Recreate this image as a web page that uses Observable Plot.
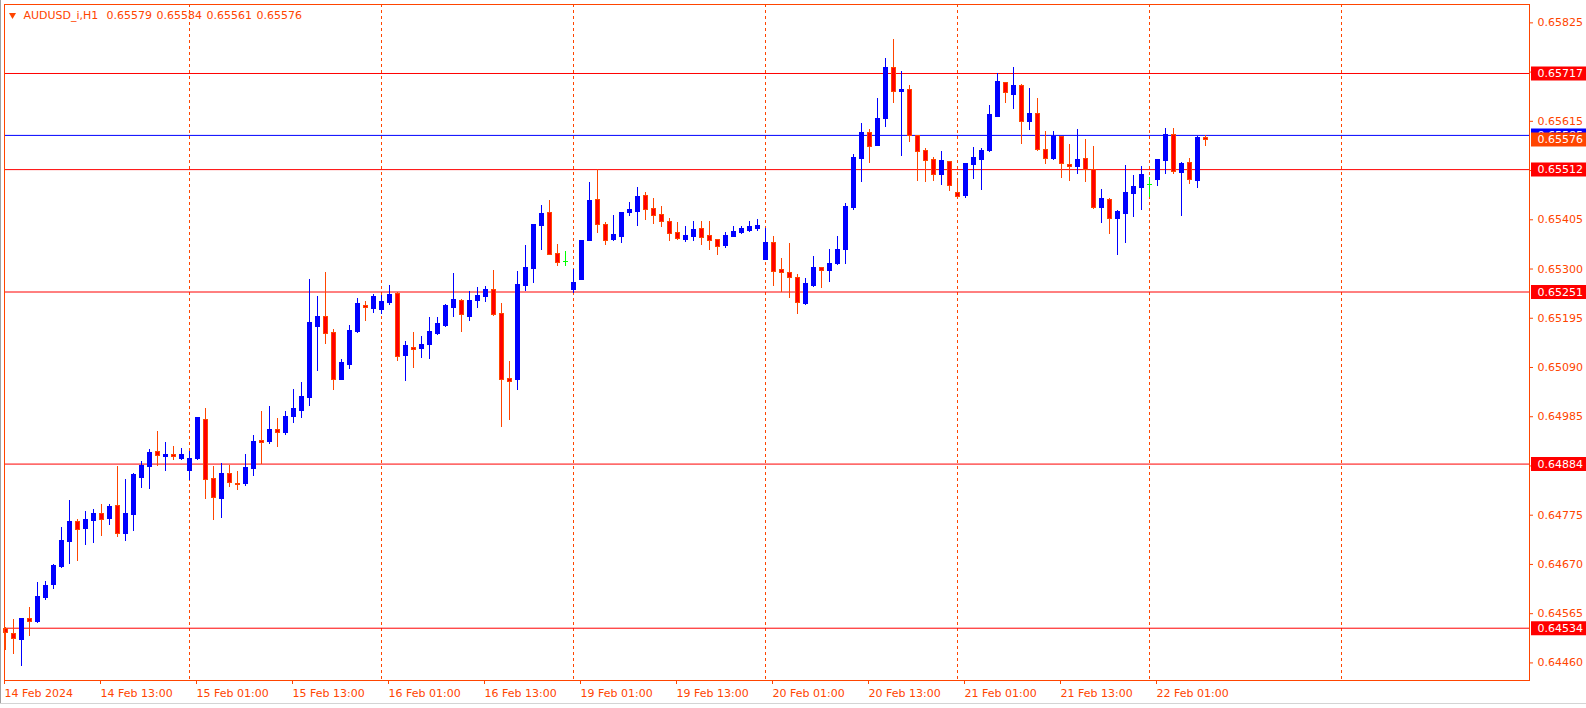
<!DOCTYPE html>
<html><head><meta charset="utf-8">
<script src="https://cdn.jsdelivr.net/npm/d3@7"></script>
<script src="https://cdn.jsdelivr.net/npm/@observablehq/plot@0.6"></script>
<style>
html,body{margin:0;padding:0;background:#fff;overflow:hidden}
#wrap{position:relative;width:1586px;height:708px}
#edgeL{position:absolute;left:0;top:0;width:1px;height:704px;background:#a0a0a0}
#edgeB{position:absolute;left:0;top:703px;width:1586px;height:1px;background:#d4d4d4}
</style></head><body><div id="wrap"><div id="edgeL"></div><div id="edgeB"></div></div>
<script>
// ---- data (AUDUSD_i, H1, bar index 0 = 14 Feb 2024 01:00) ----
const opens = [0.64532,0.64522,0.64509,0.64553,0.64547,0.64598,0.64626,0.64664,0.64717,0.64760,
0.64746,0.64763,0.64777,0.64767,0.64794,0.64735,0.64775,0.64854,0.64877,0.64909,
0.64899,0.64903,0.64894,0.64869,0.64894,0.64979,0.64853,0.64810,0.64862,0.64842,
0.64841,0.64873,0.64933,0.64931,0.64956,0.64950,0.64984,0.64997,0.65024,0.65176,
0.65197,0.65163,0.65063,0.65096,0.65165,0.65222,0.65215,0.65213,0.65228,0.65246,
0.65115,0.65132,0.65130,0.65138,0.65162,0.65179,0.65217,0.65231,0.65198,0.65232,
0.65241,0.65255,0.65204,0.65065,0.65063,0.65263,0.65300,0.65392,0.65419,0.65332,
0.65317,0.65255,0.65277,0.65360,0.65447,0.65393,0.65361,0.65368,0.65419,0.65421,
0.65455,0.65428,0.65415,0.65400,0.65376,0.65361,0.65368,0.65385,0.65370,0.65361,
0.65349,0.65368,0.65376,0.65381,0.65385,0.65319,0.65355,0.65297,0.65291,0.65280,
0.65225,0.65263,0.65302,0.65295,0.65310,0.65340,0.65430,0.65534,0.65590,0.65562,
0.65620,0.65728,0.65678,0.65681,0.65584,0.65551,0.65532,0.65501,0.65528,0.65462,
0.65456,0.65521,0.65533,0.65551,0.65625,0.65696,0.65671,0.65690,0.65614,0.65630,
0.65553,0.65535,0.65581,0.65521,0.65518,0.65534,0.65512,0.65430,0.65447,0.65407,
0.65418,0.65460,0.65473,0.65480,0.65490,0.65531,0.65585,0.65505,0.65526,0.65488,
0.65579];
const highs = [0.64535,0.64553,0.64553,0.64579,0.64632,0.64634,0.64670,0.64749,0.64807,0.64766,
0.64783,0.64788,0.64798,0.64798,0.64879,0.64852,0.64864,0.64890,0.64916,0.64954,
0.64931,0.64922,0.64918,0.64911,0.64982,0.65003,0.64879,0.64886,0.64882,0.64869,
0.64905,0.64945,0.64997,0.65007,0.64982,0.64997,0.65044,0.65059,0.65278,0.65242,
0.65293,0.65172,0.65108,0.65180,0.65238,0.65231,0.65246,0.65244,0.65265,0.65250,
0.65146,0.65165,0.65157,0.65197,0.65197,0.65225,0.65291,0.65235,0.65253,0.65261,
0.65263,0.65297,0.65227,0.65103,0.65295,0.65351,0.65396,0.65436,0.65447,0.65353,
0.65338,0.65300,0.65359,0.65485,0.65513,0.65400,0.65415,0.65419,0.65442,0.65474,
0.65464,0.65451,0.65434,0.65408,0.65400,0.65391,0.65402,0.65402,0.65402,0.65364,
0.65378,0.65391,0.65391,0.65402,0.65406,0.65387,0.65370,0.65323,0.65355,0.65289,
0.65280,0.65327,0.65304,0.65342,0.65370,0.65440,0.65545,0.65611,0.65598,0.65664,
0.65748,0.65790,0.65722,0.65692,0.65584,0.65556,0.65538,0.65551,0.65528,0.65494,
0.65524,0.65560,0.65558,0.65649,0.65718,0.65698,0.65730,0.65694,0.65686,0.65664,
0.65594,0.65594,0.65583,0.65566,0.65598,0.65577,0.65562,0.65470,0.65451,0.65425,
0.65521,0.65500,0.65519,0.65496,0.65532,0.65600,0.65600,0.65528,0.65536,0.65583,
0.65584];
const lows = [0.64487,0.64478,0.64453,0.64517,0.64543,0.64594,0.64617,0.64662,0.64670,0.64677,
0.64711,0.64715,0.64730,0.64753,0.64728,0.64719,0.64741,0.64832,0.64830,0.64879,
0.64869,0.64891,0.64891,0.64848,0.64892,0.64808,0.64764,0.64767,0.64835,0.64827,
0.64837,0.64858,0.64884,0.64926,0.64920,0.64946,0.64971,0.64982,0.65006,0.65082,
0.65138,0.65042,0.65063,0.65085,0.65162,0.65189,0.65206,0.65204,0.65223,0.65102,
0.65061,0.65087,0.65110,0.65106,0.65159,0.65176,0.65196,0.65165,0.65189,0.65215,
0.65228,0.65198,0.64961,0.64976,0.65042,0.65253,0.65270,0.65339,0.65328,0.65305,
0.65306,0.65248,0.65277,0.65360,0.65375,0.65351,0.65359,0.65355,0.65413,0.65391,
0.65404,0.65396,0.65389,0.65359,0.65361,0.65357,0.65359,0.65351,0.65340,0.65329,
0.65344,0.65368,0.65374,0.65378,0.65381,0.65319,0.65263,0.65251,0.65238,0.65204,
0.65223,0.65261,0.65259,0.65272,0.65308,0.65310,0.65425,0.65485,0.65524,0.65562,
0.65602,0.65654,0.65541,0.65569,0.65487,0.65485,0.65487,0.65479,0.65465,0.65450,
0.65450,0.65492,0.65468,0.65549,0.65625,0.65652,0.65641,0.65566,0.65596,0.65550,
0.65522,0.65531,0.65494,0.65487,0.65502,0.65485,0.65428,0.65398,0.65374,0.65328,
0.65354,0.65409,0.65424,0.65452,0.65477,0.65501,0.65501,0.65413,0.65481,0.65472,
0.65561];
const closes = [0.64524,0.64510,0.64553,0.64547,0.64600,0.64625,0.64667,0.64719,0.64760,0.64743,
0.64764,0.64777,0.64765,0.64792,0.64735,0.64777,0.64860,0.64879,0.64907,0.64901,
0.64903,0.64899,0.64903,0.64894,0.64982,0.64851,0.64812,0.64862,0.64844,0.64840,
0.64875,0.64931,0.64930,0.64956,0.64950,0.64984,0.65001,0.65027,0.65184,0.65197,
0.65162,0.65063,0.65099,0.65167,0.65225,0.65216,0.65240,0.65229,0.65244,0.65113,
0.65135,0.65128,0.65137,0.65165,0.65182,0.65221,0.65233,0.65201,0.65231,0.65242,
0.65255,0.65202,0.65063,0.65060,0.65265,0.65302,0.65393,0.65417,0.65330,0.65313,
0.65317,0.65270,0.65359,0.65445,0.65393,0.65360,0.65372,0.65419,0.65425,0.65453,
0.65425,0.65413,0.65400,0.65374,0.65364,0.65370,0.65383,0.65366,0.65359,0.65346,
0.65370,0.65378,0.65385,0.65389,0.65391,0.65355,0.65294,0.65292,0.65280,0.65227,
0.65268,0.65302,0.65296,0.65310,0.65340,0.65432,0.65536,0.65590,0.65561,0.65620,
0.65728,0.65678,0.65681,0.65584,0.65550,0.65531,0.65501,0.65530,0.65477,0.65454,
0.65524,0.65536,0.65551,0.65628,0.65698,0.65675,0.65690,0.65614,0.65630,0.65554,
0.65535,0.65581,0.65523,0.65518,0.65532,0.65512,0.65430,0.65449,0.65407,0.65421,
0.65462,0.65474,0.65500,0.65480,0.65532,0.65585,0.65507,0.65524,0.65490,0.65579,
0.65576];

const xTickBars = [0,12,24,36,48,60,72,84,96,108,120,132,144];
const xTickLabels = ["14 Feb 2024","14 Feb 13:00","15 Feb 01:00","15 Feb 13:00","16 Feb 01:00","16 Feb 13:00",
  "19 Feb 01:00","19 Feb 13:00","20 Feb 01:00","20 Feb 13:00","21 Feb 01:00","21 Feb 13:00","22 Feb 01:00"];
const gridBars = [23,47,71,95,119,143,167];
const yTicks = [0.64460,0.64565,0.64670,0.64775,0.64880,0.64985,0.65090,0.65195,0.65300,0.65405,0.65510,0.65615,0.65720,0.65825];
const redLevels = [0.65717,0.65512,0.65251,0.64884,0.64534];
const blueLevels = [0.65585];
const bidLevels = [0.65576];
const headerTexts = ["AUDUSD_i,H1","0.65579","0.65584","0.65561","0.65576"];

// ---- styling ----
const FG = "#FF4500", BULL = "#0000FF", BEAR_FILL = "#FF0000", BEAR_LINE = "#FF4500", DOJI = "#00FF00";
const FONT = "DejaVu Sans";

const candles = opens.map((o, i) => ({i, open: o, high: highs[i], low: lows[i], close: closes[i]}));
const bull = candles.filter(d => d.close > d.open);
const bear = candles.filter(d => d.close < d.open);
const doji = candles.filter(d => d.close === d.open);
const wickColor = d => d.close > d.open ? BULL : d.close < d.open ? BEAR_LINE : DOJI;
const fmt = d => d.toFixed(5);
const headerDx = [19, 102, 152, 202, 252];

const chart = Plot.plot({
  width: 1586, height: 708,
  marginLeft: 4, marginRight: 57, marginTop: 4, marginBottom: 28,
  x: {type: "linear", domain: [-0.125, 190.5], axis: null},
  y: {type: "linear", domain: [0.6442248, 0.6586415], axis: null},
  style: {fontFamily: FONT, fontSize: "11px", background: "transparent", overflow: "visible"},
  marks: [
    Plot.ruleX(gridBars, {x: d => d, stroke: FG, strokeDasharray: "3,3", strokeWidth: 1}),
    Plot.ruleY(redLevels, {y: d => d, stroke: "#FF0000", strokeWidth: 1}),
    Plot.ruleY(blueLevels, {y: d => d, stroke: "#0000FF", strokeWidth: 1}),
    Plot.ruleX(candles, {x: "i", y1: "low", y2: "high", stroke: wickColor, strokeWidth: 1, shapeRendering: "crispEdges"}),
    Plot.rect(bull, {x1: d => d.i - 2/8, x2: d => d.i + 3/8, y1: "open", y2: "close",
      insetTop: -0.5, insetBottom: -0.5, fill: BULL, shapeRendering: "crispEdges"}),
    Plot.rect(bear, {x1: d => d.i - 1.5/8, x2: d => d.i + 2.5/8, y1: "open", y2: "close",
      fill: BEAR_FILL, stroke: BEAR_LINE, strokeWidth: 1, shapeRendering: "crispEdges"}),
    Plot.ruleY(doji, {y: "open", x1: d => d.i - 2/8, x2: d => d.i + 3/8, stroke: DOJI, strokeWidth: 1, shapeRendering: "crispEdges"}),
    Plot.frame({stroke: FG, strokeWidth: 1}),
    Plot.axisX(xTickBars, {anchor: "bottom", tickSize: 4, tickPadding: 5, color: FG, textAnchor: "start", dx: -1,
      tickFormat: d => xTickLabels[xTickBars.indexOf(d)], label: null}),
    Plot.axisY(yTicks, {anchor: "right", tickSize: 3, tickPadding: 5, color: FG, tickFormat: fmt, label: null}),
    // level labels on the price scale
    Plot.ruleY(blueLevels, {y: d => d, stroke: "#0000FF", strokeWidth: 14, insetLeft: 1527, insetRight: -57}),
    Plot.text(blueLevels, {y: d => d, frameAnchor: "right", dx: 8, textAnchor: "start", fill: "#FFFFFF", text: fmt}),
    Plot.ruleY(redLevels, {y: d => d, stroke: "#FF0000", strokeWidth: 14, insetLeft: 1527, insetRight: -57}),
    Plot.text(redLevels, {y: d => d, frameAnchor: "right", dx: 8, textAnchor: "start", fill: "#FFFFFF", text: fmt}),
    Plot.ruleY(bidLevels, {y: d => d, stroke: FG, strokeWidth: 14, insetLeft: 1527, insetRight: -57}),
    Plot.text(bidLevels, {y: d => d, frameAnchor: "right", dx: 8, textAnchor: "start", fill: "#FFFFFF", text: fmt}),
    // header
    Plot.dot([0], {frameAnchor: "top-left", dx: 8, dy: 10.5, symbol: "triangle", r: 2.6, rotate: 180, fill: FG, stroke: "none"}),
    ...headerTexts.map((t, k) => Plot.text([t], {frameAnchor: "top-left", dx: headerDx[k], dy: 11,
      textAnchor: "start", lineAnchor: "middle", fill: FG, text: d => d}))
  ]
});
document.getElementById("wrap").prepend(chart);
chart.style.position = "absolute";
chart.style.left = "0"; chart.style.top = "0";
</script>
</body></html>
